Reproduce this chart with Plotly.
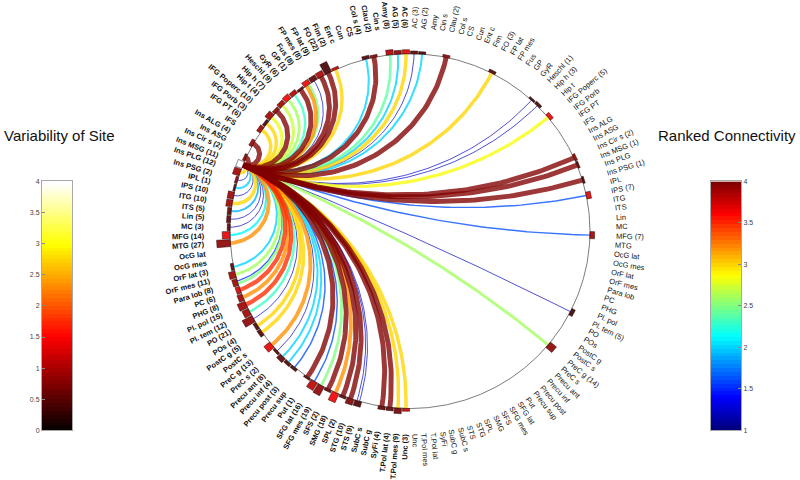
import numpy as np
import plotly.graph_objects as go

# ---------------- data ----------------
regions = ["AC", "AG", "Amy", "Cin s", "Clau", "Col s", "CS", "Cun", "Ent c", "Fim", "FO",
           "FP lat", "FP mes", "Fus", "GP", "GyR", "Heschl", "Hip h", "Hip t", "IFG Poperc",
           "IFG Porb", "IFG PT", "IFS", "Ins ALG", "Ins ASG", "Ins Cir s", "Ins MSG", "Ins PLG",
           "Ins PSG", "IPL", "IPS", "ITG", "ITS", "Lin", "MC", "MFG", "MTG", "OcG lat", "OcG mes",
           "OrF lat", "OrF mes", "Para lob", "PC", "PHG", "Pl. pol", "Pl. tem", "PO", "POs",
           "PostC g", "PostC s", "PreC g", "PreC s", "Precu ant", "Precu inf", "Precu post",
           "Precu sup", "Put", "SFG lat", "SFG mes", "SFS", "SMG", "SPL", "STG", "STS", "SubC s",
           "SubC g", "SyFi", "T.Pol lat", "T.Pol mes", "Unc"]

# number of sites per region (left hemisphere = bold labels, right = regular)
sites_left = {"AC": 6, "AG": 5, "Amy": 8, "Clau": 2, "Col s": 4, "Fim": 2, "FO": 22, "FP lat": 9,
              "FP mes": 8, "Fus": 8, "GP": 1, "GyR": 6, "Heschl": 9, "Hip h": 7, "Hip t": 4,
              "IFG Poperc": 10, "IFG Porb": 3, "IFG PT": 6, "Ins ALG": 4, "Ins Cir s": 2,
              "Ins MSG": 11, "Ins PLG": 12, "Ins PSG": 2, "IPL": 1, "IPS": 10, "ITG": 10, "ITS": 5,
              "Lin": 5, "MC": 3, "MFG": 14, "MTG": 27, "OrF lat": 3, "OrF mes": 11, "Para lob": 8,
              "PC": 6, "PHG": 8, "Pl. pol": 15, "Pl. tem": 12, "PO": 21, "POs": 4, "PostC g": 5,
              "PreC g": 13, "PreC s": 2, "Precu ant": 8, "Precu inf": 4, "Precu post": 3, "Put": 1,
              "SFG lat": 16, "SFG mes": 19, "SFS": 2, "SMG": 18, "SPL": 2, "STG": 10, "STS": 9,
              "SyFi": 4, "T.Pol lat": 4, "T.Pol mes": 9, "Unc": 3}
sites_right = {"AC": 3, "AG": 2, "Clau": 2, "FO": 3, "Heschl": 1, "Hip h": 3, "IFG Poperc": 5,
               "Ins Cir s": 2, "Ins MSG": 1, "Ins PSG": 1, "IPS": 7, "MFG": 7, "Pl. tem": 5,
               "PreC g": 14}

# variability of site (hot colour scale, 0..4)
variability_left = {"AC": 1.3, "AG": 0.8, "Amy": 1.0, "Clau": 0.8, "Col s": 0.4, "Fim": 1.2,
                    "FO": 0.35, "FP lat": 1.0, "FP mes": 0.5, "Fus": 1.4, "GP": 0.4, "GyR": 1.0,
                    "Heschl": 1.4, "Hip h": 0.9, "Hip t": 0.8, "IFG Poperc": 0.9, "IFG Porb": 0.3,
                    "IFG PT": 0.9, "Ins ALG": 0.9, "Ins Cir s": 0.8, "Ins MSG": 4.0, "Ins PLG": 0.9,
                    "Ins PSG": 0.8, "IPL": 0.4, "IPS": 0.9, "ITG": 0.9, "ITS": 0.5, "Lin": 0.5,
                    "MC": 0.5, "MFG": 1.35, "MTG": 0.8, "OrF lat": 0.5, "OrF mes": 0.9,
                    "Para lob": 0.9, "PC": 1.2, "PHG": 0.9, "Pl. pol": 0.9, "Pl. tem": 0.9,
                    "PO": 0.8, "POs": 0.4, "PostC g": 0.4, "PreC g": 1.35, "PreC s": 0.4,
                    "Precu ant": 0.5, "Precu inf": 0.4, "Precu post": 0.4, "Put": 0.4,
                    "SFG lat": 1.1, "SFG mes": 0.8, "SFS": 0.5, "SMG": 1.4, "SPL": 0.5, "STG": 0.7,
                    "STS": 0.4, "SyFi": 0.5, "T.Pol lat": 0.5, "T.Pol mes": 0.6, "Unc": 1.2}
variability_right = {"AC": 0.5, "AG": 0.4, "Clau": 0.9, "FO": 0.4, "Heschl": 0.3, "Hip h": 0.3,
                     "IFG Poperc": 1.4, "Ins Cir s": 0.8, "Ins MSG": 0.4, "Ins PSG": 0.3,
                     "IPS": 1.3, "MFG": 0.9, "Pl. tem": 0.3, "PreC g": 0.8}

# seed region and its ranked connections
source_hemi = "L"
source_region = "Ins MSG"
chord_hemi = ["L"] * 60 + ["R"] * 14
chord_target = ["AC", "AG", "Amy", "Clau", "Col s", "Fim", "FO", "FP lat", "FP mes", "Fus", "Fus",
                "GP", "GyR", "Heschl", "Hip h", "Hip t", "IFG Poperc", "IFG Porb", "IFG PT",
                "Ins ALG", "Ins Cir s", "Ins PLG", "Ins PSG", "IPL", "IPS", "ITG", "ITS", "Lin",
                "MC", "MFG", "MTG", "OrF lat", "OrF mes", "Para lob", "Para lob", "PC", "PHG",
                "Pl. pol", "Pl. tem", "PO", "POs", "PostC g", "PreC g", "PreC s", "Precu ant",
                "Precu inf", "Precu post", "Put", "SFG lat", "SFG mes", "SFS", "SMG", "SPL", "STG",
                "STS", "STS", "SyFi", "T.Pol lat", "T.Pol mes", "Unc",
                "AC", "AG", "Clau", "FO", "Heschl", "Hip h", "IFG Poperc", "Ins Cir s", "Ins MSG",
                "Ins PSG", "IPS", "MFG", "Pl. tem", "PreC g"]
chord_rank = [3.0, 2.0, 2.4, 4.0, 2.0, 3.0, 4.0, 4.0, 1.2, 2.5, 3.2,
              4.0, 2.3, 2.6, 2.7, 4.0, 2.8, 3.0, 3.0,
              4.0, 4.0, 3.0, 1.2, 2.0, 1.2, 3.0, 1.9, 1.2,
              1.2, 2.1, 3.2, 2.0, 2.6, 1.5, 2.5, 3.5, 3.2,
              3.5, 2.3, 1.2, 3.0, 3.0, 3.2, 1.2, 2.0,
              2.0, 1.6, 4.0, 1.6, 2.5, 4.0, 3.2, 4.0, 4.0,
              1.2, 1.2, 4.0, 4.0, 3.0, 3.0,
              1.2, 2.0, 4.0, 3.0, 1.2, 1.2, 2.85, 4.0, 4.0,
              4.0, 1.6, 1.6, 1.2, 2.6]

hot_ticks = [0, 0.5, 1, 1.5, 2, 2.5, 3, 3.5, 4]
rank_ticks = [1, 1.5, 2, 2.5, 3, 3.5, 4]

# ---------------- styling / geometry ----------------
CX, CY, R = 410.0, 230.5, 180.0
R_LABEL = 206.0
LABEL_SIZE = 7.5
NREG = len(regions)
STEP = 180.0 / NREG
FONT = "Liberation Sans, Arial, Helvetica, sans-serif"

# Arial / Liberation Sans advance widths (per 1000 em)
W_REG = {" ": 278, "(": 333, ")": 333, ".": 278, "A": 667, "C": 722, "E": 667, "F": 611,
         "G": 778, "H": 722, "I": 278, "L": 556, "M": 833, "O": 778, "P": 667, "R": 722,
         "S": 667, "T": 611, "U": 722, "a": 556, "b": 556, "c": 500, "d": 556, "e": 556, "f": 278,
         "g": 556, "h": 556, "i": 222, "k": 500, "l": 222, "m": 833, "n": 556, "o": 556,
         "p": 556, "r": 333, "s": 500, "t": 278, "u": 556, "v": 500, "y": 500}
W_BOLD = {" ": 278, "(": 333, ")": 333, ".": 278, "A": 722, "C": 722, "E": 667, "F": 611,
          "G": 778, "H": 722, "I": 278, "L": 611, "M": 833, "O": 778, "P": 667, "R": 722,
          "S": 667, "T": 611, "U": 722, "a": 556, "b": 611, "c": 556, "d": 611, "e": 556,
          "f": 333, "g": 611, "h": 611, "i": 278, "k": 556, "l": 278, "m": 889, "n": 611,
          "o": 611, "p": 611, "r": 389, "s": 556, "t": 333, "u": 611, "v": 556, "y": 556}


def text_width(s, bold, size):
    tab = W_BOLD if bold else W_REG
    return sum(tab.get(ch, 556) for ch in s) * size / 1000.0


JET = [(0.0, (0, 0, 128)), (0.125, (0, 0, 255)), (0.375, (0, 255, 255)),
       (0.625, (255, 255, 0)), (0.875, (255, 0, 0)), (1.0, (128, 0, 0))]
HOT = [(0.0, (10, 0, 0)), (0.375, (255, 0, 0)), (0.75, (255, 255, 0)), (1.0, (255, 255, 255))]


def interp(stops, t):
    t = min(max(t, 0.0), 1.0)
    for (t0, c0), (t1, c1) in zip(stops[:-1], stops[1:]):
        if t <= t1:
            f = 0 if t1 == t0 else (t - t0) / (t1 - t0)
            return tuple(int(round(a + (b - a) * f)) for a, b in zip(c0, c1))
    return stops[-1][1]


def rgba(c, a):
    return "rgba(%d,%d,%d,%.2f)" % (c[0], c[1], c[2], a)


def node_angle(hemi, idx, frac=0.5):
    return 90 - (idx + frac) * STEP if hemi == "R" else 90 + (idx + frac) * STEP


def to_xy(theta_deg, r):
    t = np.radians(theta_deg)
    return CX + r * np.cos(t), CY - r * np.sin(t)


def chord_path(a_deg, b_deg, n=80):
    a, b = np.radians(a_deg), np.radians(b_deg)
    diff = (b - a + np.pi) % (2 * np.pi) - np.pi
    d = diff / 2
    p1 = np.array([np.cos(a), np.sin(a)])
    p2 = np.array([np.cos(b), np.sin(b)])
    if abs(np.cos(d)) < 1e-3:
        s = np.linspace(0, 1, n)
        pts = p1[None, :] * (1 - s)[:, None] + p2[None, :] * s[:, None]
    else:
        m = a + d
        c = np.array([np.cos(m), np.sin(m)]) / np.cos(d)
        rr = abs(np.tan(d))
        a1 = np.arctan2(*(p1 - c)[::-1])
        a2 = np.arctan2(*(p2 - c)[::-1])
        da = (a2 - a1 + np.pi) % (2 * np.pi) - np.pi
        ang = a1 + da * np.linspace(0, 1, n)
        pts = np.stack([c[0] + rr * np.cos(ang), c[1] + rr * np.sin(ang)], axis=1)
    return CX + R * pts[:, 0], CY - R * pts[:, 1]


fig = go.Figure()

# circle outline
th = np.linspace(0, 360, 721)
cx_, cy_ = to_xy(th, R)
fig.add_trace(go.Scatter(x=cx_, y=cy_, mode="lines", line=dict(color="rgb(90,90,90)", width=0.8),
                         hoverinfo="skip", showlegend=False))

# chords
src_angle = node_angle(source_hemi, regions.index(source_region))
totals = {}
for h, t in zip(chord_hemi, chord_target):
    totals[(h, t)] = totals.get((h, t), 0) + 1
seen = {}
chords = []
for h, t, v in zip(chord_hemi, chord_target, chord_rank):
    k = seen.get((h, t), 0)
    seen[(h, t)] = k + 1
    frac = (k + 1) / (totals[(h, t)] + 1)
    chords.append((v, node_angle(h, regions.index(t), frac)))
for v, ang in sorted(chords, key=lambda z: z[0]):
    xs, ys = chord_path(src_angle, ang)
    col = interp(JET, (v - 1) / 3)
    fig.add_trace(go.Scatter(x=xs, y=ys, mode="lines",
                             line=dict(color=rgba(col, 0.78), width=0.6 + (v - 1) * 1.45),
                             hoverinfo="skip", showlegend=False))

# site bars
for hemi, sites, var in (("L", sites_left, variability_left), ("R", sites_right, variability_right)):
    for name, cnt in sites.items():
        idx = regions.index(name)
        a0 = node_angle(hemi, idx, 0.06)
        a1 = node_angle(hemi, idx, 0.94)
        r1 = R + 1.5 + 0.45 * cnt
        x0, y0 = to_xy(np.array([a0, a1, a1, a0, a0]), np.array([R, R, r1, r1, R]))
        col = interp(HOT, var[name] / 4)
        fig.add_trace(go.Scatter(x=x0, y=y0, mode="lines", fill="toself",
                                 fillcolor=rgba(col, 0.9),
                                 line=dict(color="rgba(30,0,0,0.8)", width=0.6),
                                 hoverinfo="skip", showlegend=False))

# region labels (radial text starting just outside the ring)
annotations = []
for hemi, sites in (("L", sites_left), ("R", sites_right)):
    bold = hemi == "L"
    for idx, name in enumerate(regions):
        cnt = sites.get(name, 0)
        lab = "%s (%d)" % (name, cnt) if cnt else name
        ang = node_angle(hemi, idx)
        w = text_width(lab, bold, LABEL_SIZE)
        x, y = to_xy(ang, R_LABEL + w / 2)
        rot = -ang if hemi == "R" else 180 - ang
        annotations.append(dict(x=x, y=y, xref="x", yref="y",
                                text=("<b>%s</b>" % lab) if bold else lab, showarrow=False,
                                textangle=rot, xanchor="center", yanchor="middle",
                                font=dict(family=FONT, size=LABEL_SIZE, color="#111")))

annotations.append(dict(x=2 / 800, y=(480 - 133) / 480, xref="paper", yref="paper",
                        text="Variability of Site", showarrow=False, xanchor="left",
                        yanchor="middle", font=dict(family=FONT, size=15, color="#111")))
annotations.append(dict(x=798 / 800, y=(480 - 133) / 480, xref="paper", yref="paper",
                        text="Ranked Connectivity", showarrow=False, xanchor="right",
                        yanchor="middle", font=dict(family=FONT, size=15, color="#111")))

# colour bars drawn as heatmaps
NC = 64
zc = (np.arange(NC) / (NC - 1)).reshape(-1, 1)
hot_scale = [[s, "rgb(%d,%d,%d)" % c] for s, c in HOT]
jet_scale = [[s, "rgb(%d,%d,%d)" % c] for s, c in JET]
fig.add_trace(go.Heatmap(z=zc, x=[0], y=(np.arange(NC) + 0.5) * 4 / NC, colorscale=hot_scale,
                         zmin=0, zmax=1, showscale=False, hoverinfo="skip", xaxis="x2", yaxis="y2"))
fig.add_trace(go.Heatmap(z=zc, x=[0], y=1 + (np.arange(NC) + 0.5) * 3 / NC, colorscale=jet_scale,
                         zmin=0, zmax=1, showscale=False, hoverinfo="skip", xaxis="x3", yaxis="y3"))

ydom = [(480 - 432.7) / 480, (480 - 180) / 480]
cb_x = dict(range=[-0.5, 0.5], showticklabels=False, ticks="", showgrid=False, zeroline=False,
            showline=True, mirror=True, linecolor="#a8a8a8", linewidth=1, fixedrange=True)
cb_y = dict(ticks="inside", ticklen=3, tickcolor="#888", showgrid=False, zeroline=False,
            showline=True, mirror=True, linecolor="#a8a8a8", linewidth=1, fixedrange=True,
            tickfont=dict(family=FONT, size=7, color="#444"))

fig.update_layout(
    width=800, height=480, margin=dict(l=0, r=0, t=0, b=0),
    paper_bgcolor="white", plot_bgcolor="rgba(0,0,0,0)", showlegend=False,
    xaxis=dict(range=[0, 800], domain=[0, 1], visible=False, fixedrange=True),
    yaxis=dict(range=[480, 0], domain=[0, 1], visible=False, fixedrange=True),
    xaxis2=dict(domain=[42 / 800, 72 / 800], anchor="y2", **cb_x),
    yaxis2=dict(domain=ydom, anchor="x2", range=[0, 4], side="left",
                tickvals=hot_ticks, ticktext=[("%g" % v) for v in hot_ticks], **cb_y),
    xaxis3=dict(domain=[711 / 800, 741 / 800], anchor="y3", **cb_x),
    yaxis3=dict(domain=ydom, anchor="x3", range=[1, 4], side="right",
                tickvals=rank_ticks, ticktext=[("%g" % v) for v in rank_ticks], **cb_y),
    annotations=annotations,
)

fig.write_html("out.html", config={"displayModeBar": False, "staticPlot": True},
               post_script="document.body.style.margin='0px';")
